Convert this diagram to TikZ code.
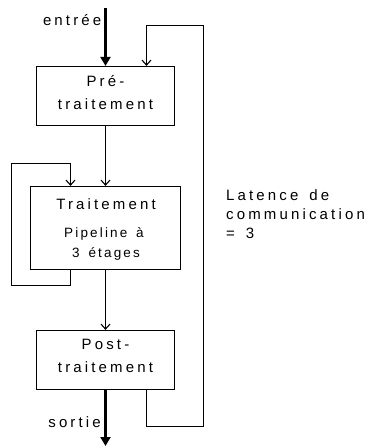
\documentclass[tikz,border=0pt]{standalone}
\usepackage{fontspec}
\setmainfont{Liberation Sans}[LetterSpace=21,WordSpace=1.5]
\newfontfamily\smallfont{Liberation Sans}[LetterSpace=16,WordSpace=1.5]
\usetikzlibrary{arrows.meta}
\begin{document}
\begin{tikzpicture}[x=1pt,y=-1pt,
  font=\fontsize{15}{20}\selectfont,
  box/.style={draw, line width=1.2pt, inner sep=0pt,
              minimum width=138pt, minimum height=59pt},
  txt/.style={inner sep=0pt, anchor=base},
  small/.style={txt, font=\smallfont\fontsize{13.5}{18}\selectfont},
  arr/.style={line width=1.1pt, -{Straight Barb[length=5pt,width=9pt]}},
  bigarr/.style={line width=3pt, -{Triangle[length=9pt,width=10pt]}},
  lbl/.style={inner sep=0pt}]
\useasboundingbox (0,0) rectangle (368,448);
% boxes
\node[box] (pre) at (105.5,96) {};
\node[box, minimum width=150pt, minimum height=83pt] (trait) at (105.5,228) {};
\node[box] (post) at (105.5,360) {};
% box texts
\node[txt] (pre1) at (105.5,86) {Pré-};
\node[txt] (pre2) at (105.5,109) {traitement};
\node[txt] (trait1) at (106,209) {Traitement};
\node[small] (trait2) at (104,237) {Pipeline à};
\node[small] (trait3) at (106,257) {3 étages};
\node[txt] (post1) at (105.5,349) {Post-};
\node[txt] (post2) at (105.5,372) {traitement};
% coordinates
\coordinate (in) at (105.5,8);
\coordinate (out) at (105.5,446);
\coordinate (fbtop) at (70.5,163.5);
\coordinate (fbbot) at (11.5,285.5);
\coordinate (lt) at (146.5,25.5);
\coordinate (rb) at (203.5,426.5);
% connectors
\draw[bigarr] (in) -- (pre.north);
\draw[arr] (pre.south) -- (trait.north);
\draw[arr] (trait.south) -- (post.north);
\draw[bigarr] (post.south) -- (out);
\draw[arr] (trait.south -| fbtop) |- (fbbot) |- (fbtop) -- (trait.north -| fbtop);
\draw[arr] (post.south -| lt) |- (rb) |- (lt) -- (pre.north -| lt);
% labels
\node[lbl, anchor=base east] (lin) at (101.5,25) {entrée};
\node[lbl, anchor=base east] (lout) at (101,427) {sortie};
\node[lbl, anchor=base west] (lat1) at (226,200) {Latence de};
\node[lbl, anchor=base west] (lat2) at (226,219) {communication};
\node[lbl, anchor=base west] (lat3) at (226,238) {= 3};
\end{tikzpicture}
\end{document}
